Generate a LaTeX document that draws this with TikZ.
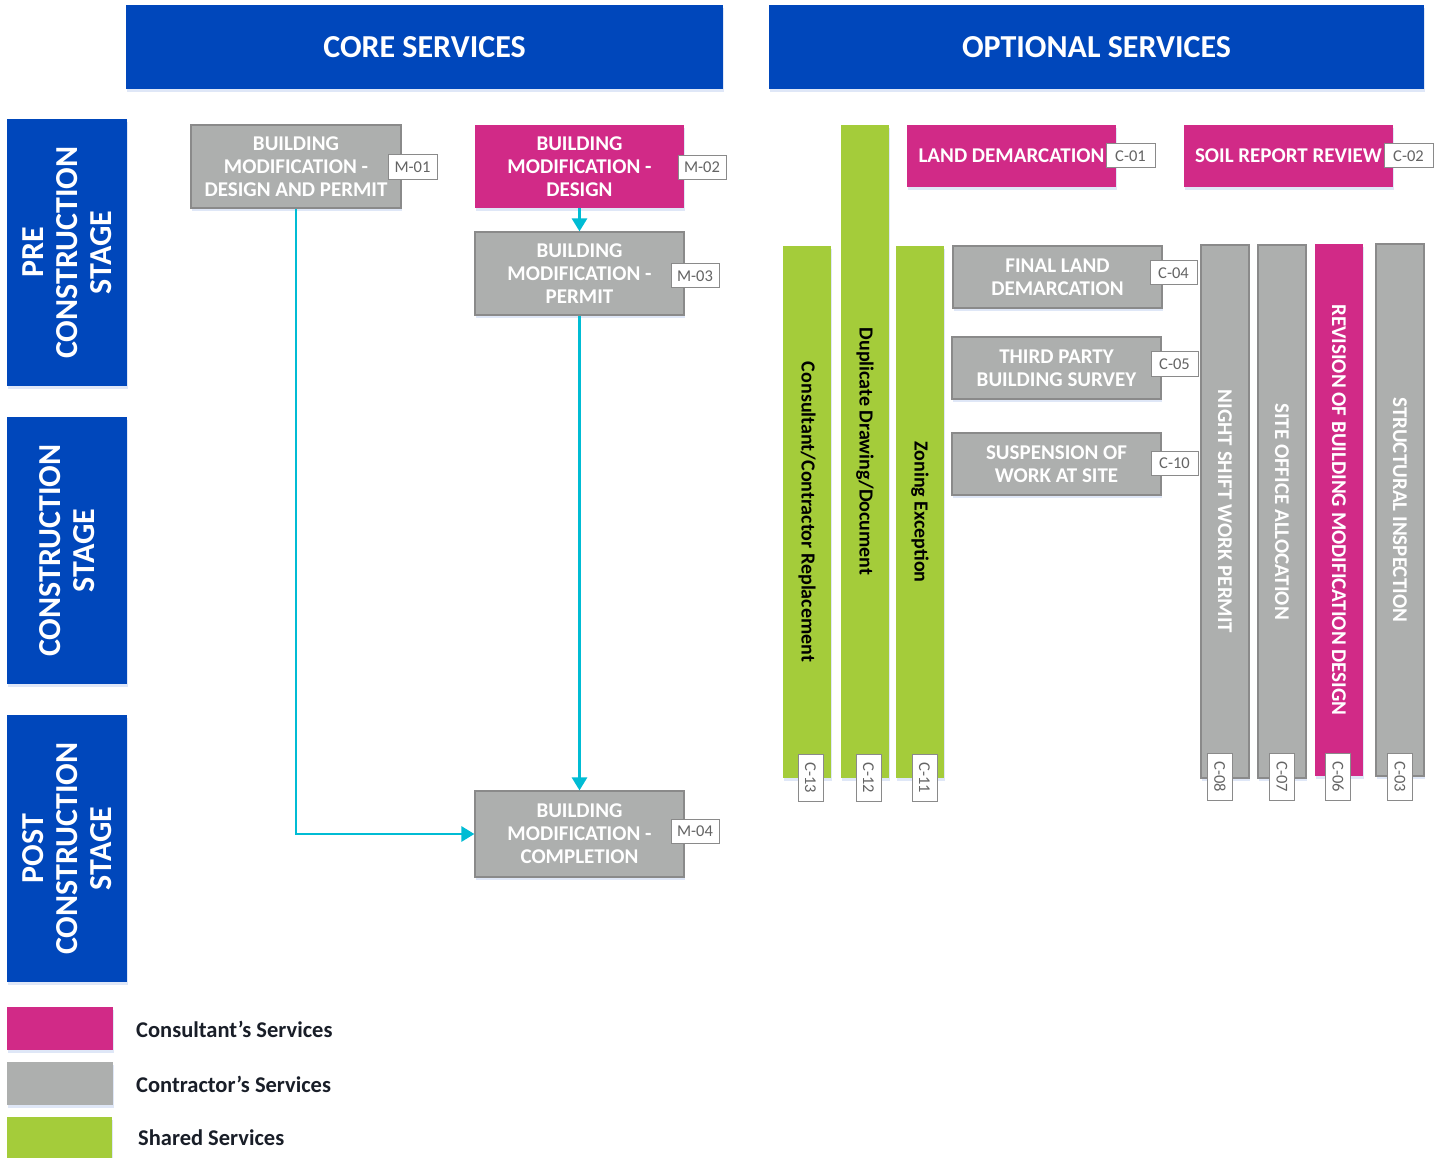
\documentclass[tikz,border=0pt]{standalone}
\usepackage{fontspec}
\setmainfont{Carlito}
\usetikzlibrary{arrows.meta,shadows}
\definecolor{hdrblue}{RGB}{0,71,187}
\definecolor{magbox}{RGB}{209,42,135}
\definecolor{greybox}{RGB}{173,175,174}
\definecolor{greyline}{RGB}{138,138,138}
\definecolor{greenbox}{RGB}{164,204,58}
\definecolor{flowcyan}{RGB}{0,188,212}
\definecolor{legtext}{RGB}{25,30,40}
\definecolor{tagtext}{RGB}{100,100,100}
\definecolor{shadowblue}{RGB}{215,226,245}
\begin{document}
\begin{tikzpicture}[x=1pt,y=-1pt,
  shadowed/.style={drop shadow={shadow xshift=1pt,shadow yshift=-3pt,fill=shadowblue,opacity=0.8}},
  hdr/.style={rectangle,fill=hdrblue,inner sep=0pt,text=white,font=\bfseries\fontsize{32}{34}\selectfont,shadowed},
  stage/.style={rectangle,fill=hdrblue,inner sep=0pt,text=white,align=center,rotate=90,
     minimum width=267pt,minimum height=120pt,font=\bfseries\fontsize{32}{34}\selectfont,shadowed},
  box/.style={rectangle,inner sep=0pt,align=center,text=white,font=\bfseries\fontsize{21}{23}\selectfont,shadowed},
  gbox/.style={box,fill=greybox,draw=greyline,line width=1.2pt},
  mbox/.style={box,fill=magbox},
  bar/.style={rectangle,inner sep=0pt,rotate=-90,minimum height=48pt,shadowed},
  gbar/.style={bar,fill=greybox,draw=greyline,line width=1.2pt,text=white,font=\bfseries\fontsize{21}{22}\selectfont},
  mbar/.style={bar,fill=magbox,text=white,font=\bfseries\fontsize{21}{22}\selectfont},
  lbar/.style={bar,fill=greenbox,text=black,font=\bfseries\fontsize{20}{22}\selectfont},
  tag/.style={rectangle,draw=greyline,fill=white,line width=1pt,text=tagtext,inner sep=0pt,
     font=\fontsize{16.5}{17}\selectfont,minimum width=48pt,minimum height=24pt},
  vtag/.style={tag,rotate=-90,minimum width=47pt,minimum height=25pt},
  flow/.style={draw=flowcyan,line width=2.8pt,-{Triangle[width=15pt,length=13pt]}},
  leg/.style={rectangle,inner sep=0pt,minimum width=106pt,minimum height=43pt,shadowed},
  legt/.style={anchor=west,inner sep=0pt,text=legtext,font=\bfseries\fontsize{22.5}{24}\selectfont}
]
\useasboundingbox (0,0) rectangle (1446,1158);
\fill[white] (0,0) rectangle (1446,1158);

% headers
\node[hdr,minimum width=597pt,minimum height=84pt] (core) at (424.5,47) {CORE SERVICES};
\node[hdr,minimum width=655pt,minimum height=84pt] (opt) at (1096.5,47) {OPTIONAL SERVICES};

% stages
\node[stage] (pre) at (67,252.5) {PRE\\CONSTRUCTION\\STAGE};
\node[stage] (con) at (67,550.5) {CONSTRUCTION\\STAGE};
\node[stage] (post) at (67,848.5) {POST\\CONSTRUCTION\\STAGE};

% core boxes
\node[gbox,minimum width=210pt,minimum height=83pt] (m01) at (296,166.5) {BUILDING\\MODIFICATION -\\DESIGN AND PERMIT};
\node[tag,minimum width=49pt,minimum height=25pt] (t01) at (412.5,167.5) {M-01};
\node[mbox,minimum width=209pt,minimum height=83pt] (m02) at (579.5,166.5) {BUILDING\\MODIFICATION -\\DESIGN};
\node[tag] (t02) at (702,167.5) {M-02};
\node[gbox,minimum width=209pt,minimum height=83pt] (m03) at (579.5,273.5) {BUILDING\\MODIFICATION -\\PERMIT};
\node[tag] (t03) at (695,276) {M-03};
\node[gbox,minimum width=209pt,minimum height=86pt] (m04) at (579.5,834) {BUILDING\\MODIFICATION -\\COMPLETION};
\node[tag] (t04) at (695,831) {M-04};

\draw[flow] (m02.south) -- (m03.north);
\draw[flow] (m03.south) -- (m04.north);
\draw[flow] (m01.south) |- (m04.west);

% optional: green bars
\node[lbar,minimum width=532pt] (c13) at (807,512) {Consultant/Contractor Replacement};
\node[lbar,minimum width=653pt] (c12) at (865,451.5) {Duplicate Drawing/Document};
\node[lbar,minimum width=532pt] (c11) at (920,512) {Zoning Exception};
\node[vtag] (tc13) at (810.5,778) {C-13};
\node[vtag] (tc12) at (868.5,778) {C-12};
\node[vtag] (tc11) at (924.5,778) {C-11};

% optional: horizontal boxes
\node[mbox,minimum width=209pt,minimum height=62pt] (c01) at (1011.5,156) {LAND DEMARCATION};
\node[tag,minimum width=49pt] (tc01) at (1130.5,156) {C-01};
\node[mbox,minimum width=209pt,minimum height=62pt] (c02) at (1288.5,156) {SOIL REPORT REVIEW};
\node[tag,minimum width=49pt] (tc02) at (1408.5,156) {C-02};
\node[gbox,minimum width=209pt,minimum height=62pt] (c04) at (1057.5,277) {FINAL LAND\\DEMARCATION};
\node[tag,minimum width=47pt] (tc04) at (1173.5,273) {C-04};
\node[gbox,minimum width=209pt,minimum height=62pt] (c05) at (1056.5,368) {THIRD PARTY\\BUILDING SURVEY};
\node[tag,minimum width=47pt] (tc05) at (1174.5,364) {C-05};
\node[gbox,minimum width=209pt,minimum height=62pt] (c10) at (1056.5,464) {SUSPENSION OF\\WORK AT SITE};
\node[tag,minimum width=47pt] (tc10) at (1174.5,463) {C-10};

% optional: right vertical bars
\node[gbar,minimum width=533pt] (c08) at (1225,511.5) {NIGHT SHIFT WORK PERMIT};
\node[gbar,minimum width=533pt] (c07) at (1282,511.5) {SITE OFFICE ALLOCATION};
\node[mbar,minimum width=532pt] (c06) at (1339,510) {REVISION OF BUILDING MODIFICATION DESIGN};
\node[gbar,minimum width=532pt] (c03) at (1400,510) {STRUCTURAL INSPECTION};
\node[vtag] (tc08) at (1220,776.5) {C-08};
\node[vtag] (tc07) at (1282,776.5) {C-07};
\node[vtag] (tc06) at (1338,776.5) {C-06};
\node[vtag] (tc03) at (1400,776.5) {C-03};

% legend
\node[leg,fill=magbox] (l1) at (60,1028.5) {};
\node[leg,fill=greybox] (l2) at (60,1083.5) {};
\node[leg,fill=greenbox,minimum width=105pt,minimum height=41pt] (l3) at (59.5,1137.5) {};
\node[legt] (lt1) at (136,1029) {Consultant’s Services};
\node[legt] (lt2) at (136,1084) {Contractor’s Services};
\node[legt] (lt3) at (138,1138) {Shared Services};
\end{tikzpicture}
\end{document}
